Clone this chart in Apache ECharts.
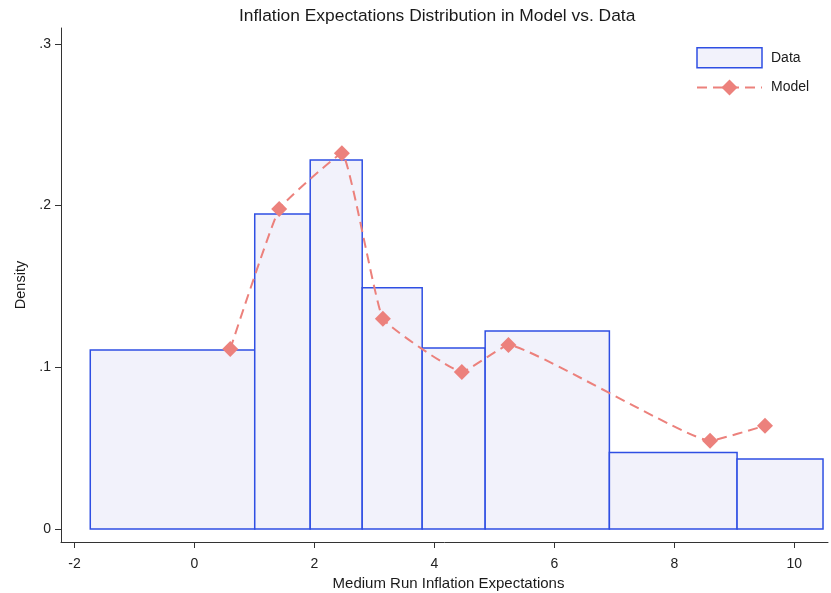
<!DOCTYPE html>
<html>
<head>
<meta charset="utf-8">
<script src="https://cdn.jsdelivr.net/npm/echarts@6/dist/echarts.min.js"></script>
<style>html,body{margin:0;padding:0;background:#fff}#c{width:831px;height:593px}</style>
</head>
<body>
<div id="c"></div>
<script>
// Histogram bins (Data)
const binLeft  = [-1.737, 1.005, 1.93, 2.797, 3.797, 4.847, 6.918, 9.047];
const binRight = [1.005, 1.93, 2.797, 3.797, 4.847, 6.918, 9.047, 10.48];
const binDensity = [0.1107, 0.1948, 0.2282, 0.1492, 0.1119, 0.1224, 0.0474, 0.0433];
// Model points
const modelX = [0.597, 1.413, 2.458, 3.142, 4.458, 5.235, 8.597, 9.513];
const modelY = [0.1113, 0.1979, 0.2323, 0.1301, 0.0971, 0.1138, 0.0546, 0.0639];
// Tick values
const xTicks = [-2, 0, 2, 4, 6, 8, 10];
const yTicks = [0, 0.1, 0.2, 0.3];

const fillC = '#f2f2fb', strokeC = '#2f4fe3', modelC = '#ec817c';
const fontF = '"Liberation Sans", Arial, Helvetica, sans-serif';

const histData = binLeft.map((l, i) => [l, binRight[i], binDensity[i]]);
const modelData = modelX.map((x, i) => [x, modelY[i]]);

const chart = echarts.init(document.getElementById('c'), null, {renderer: 'canvas'});
chart.setOption({
  animation: false,
  backgroundColor: '#fff',
  title: {
    text: 'Inflation Expectations Distribution in Model vs. Data',
    left: 234, top: 3,
    textStyle: {fontFamily: fontF, fontSize: 17.4, fontWeight: 'normal', color: '#1a1a1a'}
  },
  legend: {
    orient: 'vertical', left: 691, top: 42,
    itemWidth: 65, itemHeight: 20, itemGap: 11,
    textStyle: {fontFamily: fontF, fontSize: 14, color: '#1a1a1a', padding: [0,0,0,4]},
    data: [
      {name: 'Data', icon: 'rect', itemStyle: {color: fillC, borderColor: strokeC, borderWidth: 1.5}},
      {name: 'Model'}
    ]
  },
  grid: {left: 61, right: 3, top: 28, bottom: 51, containLabel: false, outerBoundsMode: 'none'},
  xAxis: {
    type: 'value', min: -2.225, max: 10.563,
    name: 'Medium Run Inflation Expectations', nameLocation: 'middle', nameGap: 29,
    nameTextStyle: {fontFamily: fontF, fontSize: 15, color: '#1a1a1a', padding: [0,0,0,8]},
    axisLine: {show: true, onZero: false, lineStyle: {color: '#333', width: 1}},
    axisTick: {show: true, length: 6, lineStyle: {color: '#333'}, customValues: xTicks},
    axisLabel: {fontFamily: fontF, fontSize: 14, color: '#222', margin: 15, customValues: xTicks,
      formatter: v => String(v)},
    splitLine: {show: false}
  },
  yAxis: {
    type: 'value', min: -0.008, max: 0.3098,
    name: 'Density', nameLocation: 'middle', nameGap: 33, nameRotate: 90,
    nameTextStyle: {fontFamily: fontF, fontSize: 14.5, color: '#1a1a1a'},
    axisLine: {show: true, onZero: false, lineStyle: {color: '#333', width: 1}},
    axisTick: {show: true, length: 6, lineStyle: {color: '#333'}, customValues: yTicks},
    axisLabel: {fontFamily: fontF, fontSize: 14, color: '#222', margin: 10, customValues: yTicks,
      formatter: v => (Math.abs(v) < 1e-9 ? '0' : String(+v.toFixed(2)).replace(/^0\./, '.'))},
    splitLine: {show: false}
  },
  series: [
    {
      name: 'Data', type: 'custom',
      data: histData,
      encode: {x: [0, 1], y: 2},
      itemStyle: {color: fillC, borderColor: strokeC},
      renderItem: function (params, api) {
        const p0 = api.coord([api.value(0), api.value(2)]);
        const p1 = api.coord([api.value(1), 0]);
        return {
          type: 'rect',
          shape: {x: p0[0], y: p0[1], width: p1[0] - p0[0], height: p1[1] - p0[1]},
          style: {fill: fillC, stroke: strokeC, lineWidth: 1.5}
        };
      },
      z: 2
    },
    {
      name: 'Model', type: 'line',
      data: modelData,
      symbol: 'diamond', symbolSize: 16,
      smooth: 0.1,
      itemStyle: {color: modelC},
      lineStyle: {color: modelC, width: 2, type: [10, 6]},
      z: 3
    }
  ]
});
</script>
</body>
</html>
